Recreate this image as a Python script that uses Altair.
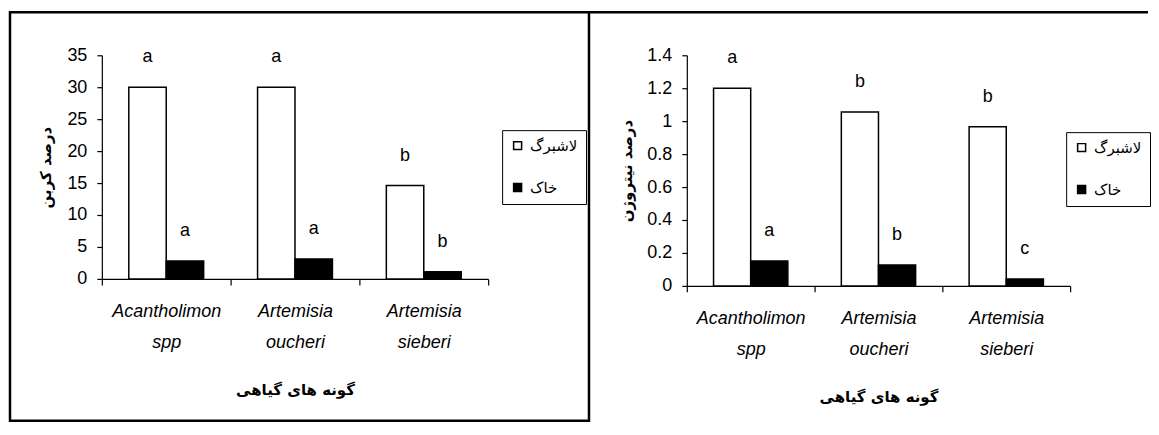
import altair as alt
import pandas as pd

species = ["Acantholimon spp", "Artemisia oucheri", "Artemisia sieberi"]
series = ["لاشبرگ", "خاک"]

carbon_leaf = [30.0, 30.0, 14.6]
carbon_soil = [2.8, 3.1, 1.1]
carbon_leaf_letters = ["a", "a", "b"]
carbon_soil_letters = ["a", "a", "b"]

nitrogen_leaf = [1.2, 1.056, 0.966]
nitrogen_soil = [0.151, 0.127, 0.042]
nitrogen_leaf_letters = ["a", "b", "b"]
nitrogen_soil_letters = ["a", "b", "c"]

carbon_ticks = [0, 5, 10, 15, 20, 25, 30, 35]
nitrogen_ticks = [0, 0.2, 0.4, 0.6, 0.8, 1.0, 1.2, 1.4]

NUM_FONT = "Liberation Sans, Arial"
FA_FONT = "DejaVu Sans"


def make_df(leaf, soil, leaf_l, soil_l):
    rows = []
    for i, sp in enumerate(species):
        rows.append({"species": sp, "series": series[0], "value": leaf[i], "letter": leaf_l[i]})
        rows.append({"species": sp, "series": series[1], "value": soil[i], "letter": soil_l[i]})
    return pd.DataFrame(rows)


def panel(df, ytitle, ydomain, yticks, yfmt, w, h, lx, ly, ytp, frame):
    x = alt.X(
        "species:N", sort=species,
        scale=alt.Scale(paddingInner=0, paddingOuter=0),
        axis=alt.Axis(
            title="گونه های گیاهی", titleFont=FA_FONT, titleFontSize=15, titleFontWeight="bold",
            titleColor="black", titlePadding=31,
            labelAngle=0, labelExpr="split(datum.label, ' ')", labelFont=NUM_FONT,
            labelFontSize=18, labelFontStyle="italic", labelColor="black", labelLineHeight=31,
            labelPadding=18, tickBand="extent", tickSize=6, tickColor="black",
            domainColor="black", labelLimit=300,
        ),
    )
    xo = alt.XOffset("series:N", sort=series,
                     scale=alt.Scale(domain=series, paddingInner=0, paddingOuter=0.72))
    y = alt.Y(
        "value:Q",
        scale=alt.Scale(domain=ydomain, nice=False, zero=True),
        axis=alt.Axis(
            title=ytitle, titleFont=FA_FONT, titleFontSize=15, titleFontWeight="bold",
            titleColor="black", titlePadding=ytp, values=yticks, format=yfmt,
            labelFont=NUM_FONT, labelFontSize=18, labelColor="black", labelPadding=10,
            labelOverlap=False, labelFlush=False, labelBound=False, tickCount=len(yticks),
            tickSize=5, tickColor="black", domainColor="black", grid=False,
        ),
    )
    color = alt.Color(
        "series:N", sort=series,
        scale=alt.Scale(domain=series, range=["white", "black"]),
        legend=alt.Legend(
            title=None, orient="none", legendX=lx, legendY=ly, symbolType="square",
            symbolSize=64, symbolStrokeColor="black", symbolStrokeWidth=1.5,
            labelFont=FA_FONT, labelFontSize=15, labelColor="black",
            strokeColor="black", fillColor="white", padding=8, rowPadding=26,
            labelOffset=5,
        ),
    )
    bars = alt.Chart(df).mark_bar(stroke="black", strokeWidth=1.5).encode(
        x=x, xOffset=xo, y=y, color=color
    )
    letters = alt.Chart(df).mark_text(
        font=NUM_FONT, fontSize=18, dy=-30, baseline="middle", color="black"
    ).encode(x=x, xOffset=xo, y=y, text="letter:N")
    return alt.layer(frame, bars, letters).properties(width=w, height=h)


one = pd.DataFrame({"k": [0]})
left_frame = alt.Chart(one).mark_rect(fill="transparent", stroke="black", strokeWidth=2.5).encode(
    x=alt.value(-92), x2=alt.value(488), y=alt.value(-43), y2=alt.value(366)
)
right_frame = alt.Chart(one).mark_rule(color="black", strokeWidth=2.5).encode(
    x=alt.value(-97), x2=alt.value(462), y=alt.value(-43)
)

df_c = make_df(carbon_leaf, carbon_soil, carbon_leaf_letters, carbon_soil_letters)
df_n = make_df(nitrogen_leaf, nitrogen_soil, nitrogen_leaf_letters, nitrogen_soil_letters)

left = panel(df_c, "درصد کربن", [0, 35], carbon_ticks, "d", 387, 224, 401, 75, 13, left_frame)
right = panel(df_n, "درصد نیتروژن", [0, 1.4], nitrogen_ticks, ".1~f", 384, 231, 380, 77, 12, right_frame)

chart = alt.hconcat(left, right, spacing=199, bounds="flush").resolve_scale(
    color="independent", x="independent", y="independent", xOffset="independent"
).configure(
    padding={"left": 0, "top": 2, "right": 0, "bottom": 0}
).configure_view(stroke=None).configure_axis(domainWidth=1.2, tickWidth=1.2)

chart.save("out.html", embed_options={"renderer": "svg", "actions": False})
